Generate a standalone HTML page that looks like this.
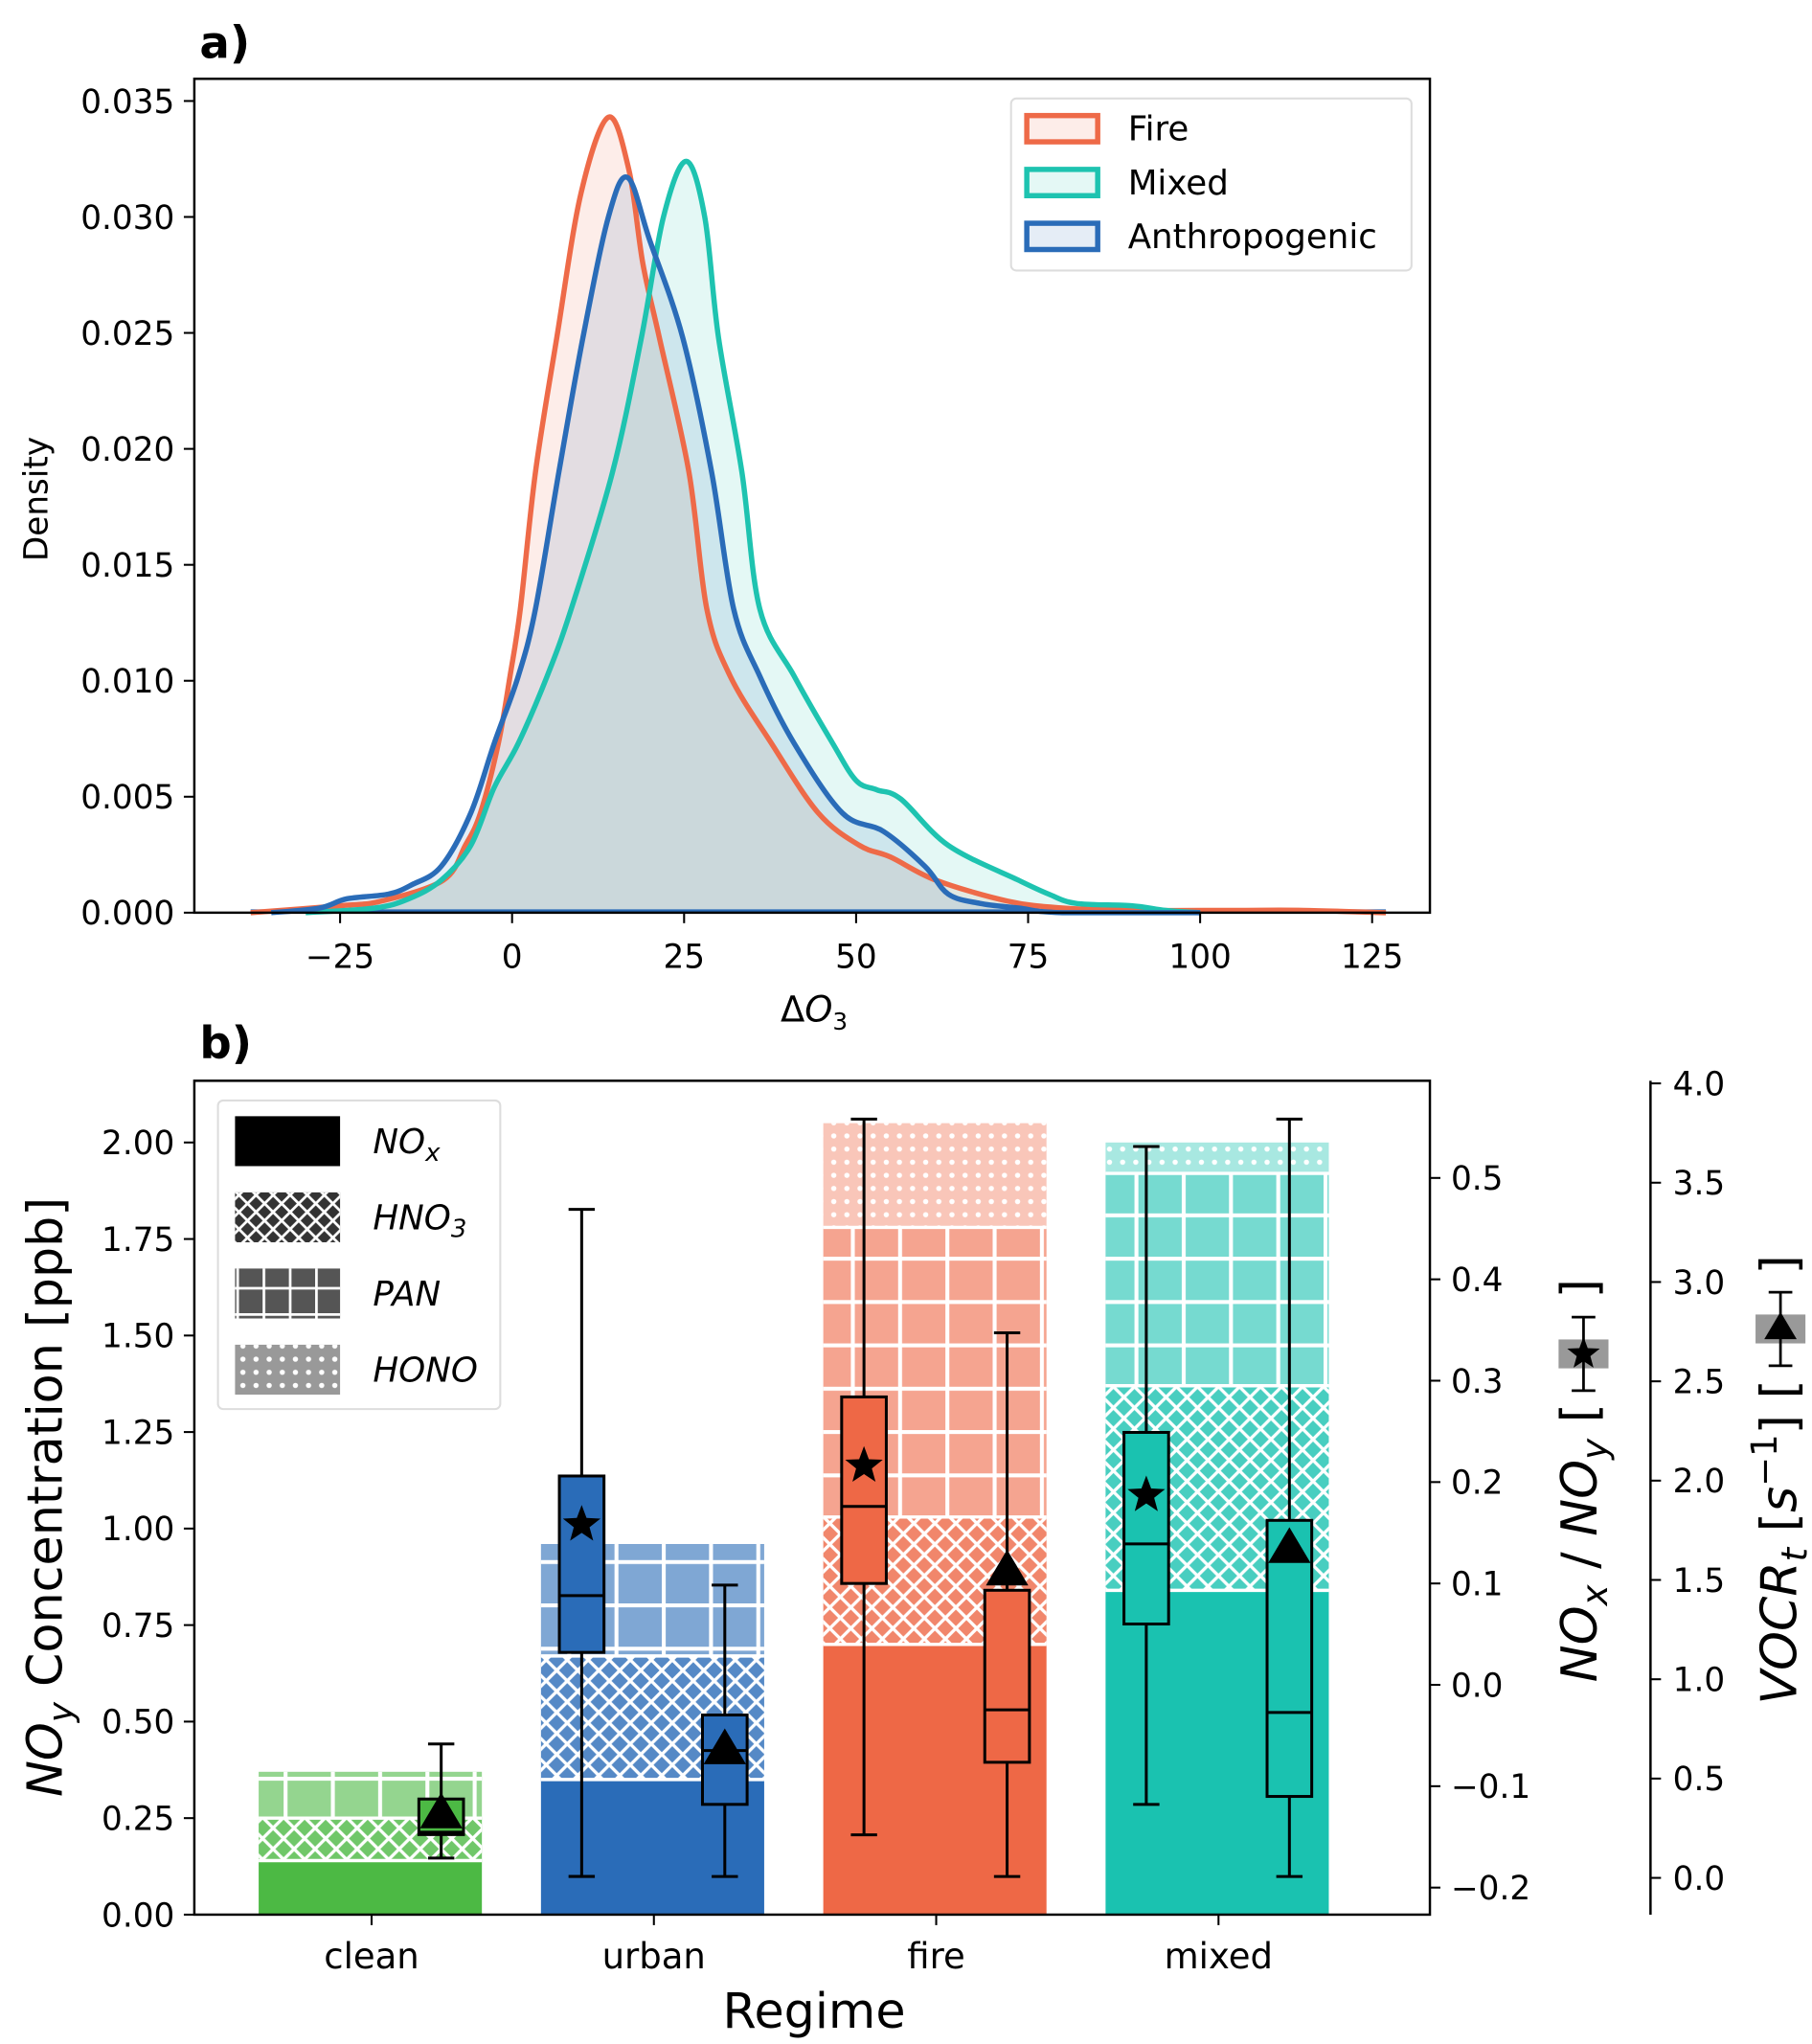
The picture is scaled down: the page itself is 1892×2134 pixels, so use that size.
<!DOCTYPE html>
<html><head><meta charset="utf-8">
<style>
html,body{margin:0;padding:0;background:#fff;}
svg{display:block;font-family:"DejaVu Sans","Liberation Sans",sans-serif;}
</style></head>
<body>
<svg id="fig" xmlns="http://www.w3.org/2000/svg" width="1892" height="2134" viewBox="0 0 1380 1556.5">
<defs>
<pattern id="cross" patternUnits="userSpaceOnUse" width="16" height="16"><path d="M0,0L16,16M16,0L0,16" stroke="#fff" stroke-width="2.4"/></pattern>
<pattern id="crossS" patternUnits="userSpaceOnUse" width="13" height="13"><path d="M0,0L13,13M13,0L0,13" stroke="#fff" stroke-width="2"/></pattern>
<pattern id="grid" patternUnits="userSpaceOnUse" width="36" height="33"><path d="M0,1.5H36M1.5,0V33" stroke="#fff" stroke-width="3"/></pattern>
<pattern id="gridS" patternUnits="userSpaceOnUse" width="20" height="20"><path d="M0,1H20M1,0V20" stroke="#fff" stroke-width="2"/></pattern>
<pattern id="dots" patternUnits="userSpaceOnUse" width="10" height="10"><circle cx="5" cy="5" r="2" fill="#fff"/></pattern>
</defs>
<g id="pa"></g>
<g id="pb"></g>
</svg>
<script>
// ---------- Panel a data ----------
const fireX=[-38,-25,-19,-10,-6.8,-4.6,-2,-0.3,1.2,3.4,6.5,10,14,17,19,21.4,25.7,28.3,31.7,37.7,44.5,50.5,55,61.6,72,80,90,105,115,127];
const fireY=[0,0.0003,0.0005,0.0014,0.0029,0.0043,0.0073,0.0102,0.0131,0.019,0.0248,0.031,0.0343,0.032,0.028,0.0248,0.019,0.0131,0.0102,0.0073,0.0043,0.0029,0.0024,0.0014,0.0005,0.0002,0.0001,0.0001,0.0001,0];
const mixedX=[-30,-20,-15,-10.3,-6,-2.6,0.9,5.1,8.6,14.6,18.8,22,25.3,28,30,33.4,36,41,46.6,50,53,56.5,63.4,73.6,78,82,90,95,100];
const mixedY=[0,0.0002,0.0006,0.0014,0.0029,0.0054,0.0073,0.0102,0.0131,0.019,0.0248,0.030,0.0324,0.030,0.0248,0.019,0.0131,0.0102,0.0073,0.0057,0.0053,0.0049,0.0029,0.0014,0.0008,0.0004,0.0003,0.0001,0];
const anthX=[-35,-28,-24,-18,-14.6,-10.3,-6,-2.6,0.9,3.4,6.8,10.3,14,16.8,20,24.8,29,32.2,36,41,48,54,60,63.4,68,73.6,80,100];
const anthY=[0,0.0002,0.0006,0.0008,0.0012,0.002,0.0043,0.0073,0.0102,0.0131,0.019,0.0248,0.030,0.0317,0.029,0.0248,0.019,0.0131,0.0102,0.0073,0.0043,0.0035,0.0020,0.0008,0.0004,0.0002,0,0];
const xTicksA=[-25,0,25,50,75,100,125];
const yTicksA=[0,0.005,0.010,0.015,0.020,0.025,0.030,0.035];
// ---------- Panel b data ----------
const regimes=["clean","urban","fire","mixed"];
const noxVals=[0.14,0.35,0.70,0.84];
const hno3Vals=[0.11,0.32,0.33,0.53];
const panVals=[0.12,0.29,0.75,0.55];
const honoVals=[0,0,0.27,0.08];
const ratioStats=[null,[-0.189,0.032,0.088,0.206,0.469,0.158],[-0.148,0.10,0.176,0.284,0.558,0.216],[-0.118,0.06,0.139,0.249,0.531,0.187]];
const vocrStats=[[0.10,0.218,0.23,0.397,0.674,0.317],[0.007,0.37,0.641,0.82,1.474,0.64],[0.007,0.582,0.846,1.448,2.744,1.54],[0.007,0.41,0.833,1.8,3.82,1.653]];
const yTicksB=[0,0.25,0.5,0.75,1.0,1.25,1.5,1.75,2.0];
const yTicksR1=[-0.2,-0.1,0.0,0.1,0.2,0.3,0.4,0.5];
const yTicksR2=[0,0.5,1.0,1.5,2.0,2.5,3.0,3.5,4.0];

const NS="http://www.w3.org/2000/svg";
function mk(parent,tag,attrs,text){const e=document.createElementNS(NS,tag);for(const k in attrs)e.setAttribute(k,attrs[k]);if(text!==undefined)e.textContent=text;parent.appendChild(e);return e;}
const pa=document.getElementById('pa'), pb=document.getElementById('pb');
const fmt=(v,d)=>(v<0?"\u2212":"")+Math.abs(v).toFixed(d);

const xa=v=>390+v*5.24, ya=v=>695-v/0.005*88.3;
const yb=v=>1458-v*294, yr1=v=>1283-v*772, yr2=v=>1430-v*151.25;
const catX=i=>283+i*215;

// ---- Panel a ----
function smooth(xs,ys){const p=xs.map((x,i)=>[xa(x),ya(ys[i])]);let d=`M${p[0][0]},${p[0][1]}`;for(let i=0;i<p.length-1;i++){const p0=p[Math.max(i-1,0)],p1=p[i],p2=p[i+1],p3=p[Math.min(i+2,p.length-1)];const c1=[p1[0]+(p2[0]-p0[0])/6,p1[1]+(p2[1]-p0[1])/6],c2=[p2[0]-(p3[0]-p1[0])/6,p2[1]-(p3[1]-p1[1])/6];d+=`C${c1[0]},${Math.min(c1[1],695)},${c2[0]},${Math.min(c2[1],695)},${p2[0]},${p2[1]}`;}return d;}
const seriesA=[["fire",fireX,fireY,"#ee6a48"],["mixed",mixedX,mixedY,"#1ec3b0"],["anthropogenic",anthX,anthY,"#2a6cb8"]];
seriesA.forEach(s=>{const d=smooth(s[1],s[2]);
  const f=mk(pa,'path',{d:d+`L${xa(s[1][s[1].length-1])},695L${xa(s[1][0])},695Z`,fill:s[3],'fill-opacity':0.12,stroke:'none'});
  
  });
mk(pa,'line',{x1:xa(-38),x2:xa(127),y1:694,y2:694,stroke:'#2a6cb8','stroke-width':3});
seriesA.forEach(s=>{const l=mk(pa,'path',{d:smooth(s[1],s[2]),fill:'none',stroke:s[3],'stroke-width':4,'stroke-linejoin':'round'});
  
  });
mk(pa,'rect',{x:148,y:60,width:941,height:635,fill:'none',stroke:'#000','stroke-width':1.8,});
xTicksA.forEach(v=>{mk(pa,'line',{x1:xa(v),x2:xa(v),y1:695,y2:703,stroke:'#000','stroke-width':1.5});
  const t=mk(pa,'text',{x:xa(v),y:737,'font-size':25,'text-anchor':'middle'},fmt(v,0));
  
  });
yTicksA.forEach(v=>{mk(pa,'line',{x1:140,x2:148,y1:ya(v),y2:ya(v),stroke:'#000','stroke-width':1.5});
  const t=mk(pa,'text',{x:133,y:ya(v)+9,'font-size':25,'text-anchor':'end'},v.toFixed(3));
  
  });
mk(pa,'text',{x:36,y:380,'font-size':25,'text-anchor':'middle',transform:'rotate(-90 36 380)',},'Density');
const xt=mk(pa,'text',{x:620,y:778,'font-size':27,'text-anchor':'middle',});
xt.innerHTML='Δ<tspan font-style="italic">O</tspan><tspan font-size="18" dy="6">3</tspan>';
mk(pa,'text',{x:152,y:44,'font-size':34,'font-weight':'bold',},'a)');
const lg=mk(pa,'g',{});
mk(lg,'rect',{x:770,y:75,width:305,height:131,rx:4,fill:'#fff','fill-opacity':0.8,stroke:'#ddd','stroke-width':1.5});
[["Fire","#ee6a48"],["Mixed","#1ec3b0"],["Anthropogenic","#2a6cb8"]].forEach((e,i)=>{const y=98+i*41;
  const g=mk(lg,'g',{});
  
  
  mk(g,'rect',{x:782,y:y-10,width:54,height:20,fill:e[1],'fill-opacity':0.12,stroke:e[1],'stroke-width':4});
  mk(g,'text',{x:859,y:y+9,'font-size':26},e[0]);});

// ---- Panel b ----
const colors=["#4cb944","#2a6cb8","#ee6846","#1ac2b0"];
regimes.forEach((r,i)=>{const x0=catX(i)-86,w=170;let cum=0;
  const layers=[[noxVals[i],1,null],[hno3Vals[i],0.8,'cross'],[panVals[i],0.6,'grid'],[honoVals[i],0.38,'dots']];
  const names=['nox','hno3','pan','hono'];
  layers.forEach((L,k)=>{if(L[0]<=0)return;const y1=yb(cum+L[0]),y0=yb(cum);
    const g=mk(pb,'g',{});
    
    
    mk(g,'rect',{x:x0,y:y1,width:w,height:y0-y1,fill:colors[i],'fill-opacity':L[1]});
    if(L[2])mk(g,'rect',{x:x0,y:y1,width:w,height:y0-y1,fill:`url(#${L[2]})`});
    if(k>0)mk(g,'line',{x1:x0,x2:x0+w,y1:y0,y2:y0,stroke:'#fff','stroke-width':2.5});
    cum+=L[0];});
});
function star(cx,cy,R){let pts=[];for(let k=0;k<10;k++){const a=-Math.PI/2+k*Math.PI/5,rr=k%2?R*0.42:R;pts.push((cx+rr*Math.cos(a)).toFixed(1)+','+(cy+rr*Math.sin(a)).toFixed(1));}return pts.join(' ');}
function tri(cx,cy,R){return `${cx},${cy-R} ${cx-R*0.95},${cy+R*0.6} ${cx+R*0.95},${cy+R*0.6}`;}
function box(st,cx,yf,col,mark,name){const g=mk(pb,'g',{});
  
  
  const hw=17;
  mk(g,'line',{x1:cx,x2:cx,y1:yf(st[0]),y2:yf(st[4]),stroke:'#000','stroke-width':2.2});
  [st[0],st[4]].forEach(v=>mk(g,'line',{x1:cx-10,x2:cx+10,y1:yf(v),y2:yf(v),stroke:'#000','stroke-width':2.2}));
  mk(g,'rect',{x:cx-hw,y:yf(st[3]),width:2*hw,height:yf(st[1])-yf(st[3]),fill:col,stroke:'#000','stroke-width':2.2});
  mk(g,'line',{x1:cx-hw,x2:cx+hw,y1:yf(st[2]),y2:yf(st[2]),stroke:'#000','stroke-width':2.2});
  if(mark==='star')mk(g,'polygon',{points:star(cx,yf(st[5]),15),fill:'#000'});
  else mk(g,'polygon',{points:tri(cx,yf(st[5]),17),fill:'#000'});}
regimes.forEach((r,i)=>{
  if(ratioStats[i])box(ratioStats[i],catX(i)-55,yr1,colors[i],'star','box-ratio-'+r);
  box(vocrStats[i],catX(i)+(i===0?53:54),yr2,colors[i],'tri','box-vocr-'+r);
});
mk(pb,'rect',{x:148,y:823,width:941,height:635,fill:'none',stroke:'#000','stroke-width':1.8,});
regimes.forEach((r,i)=>{mk(pb,'line',{x1:catX(i),x2:catX(i),y1:1458,y2:1466,stroke:'#000','stroke-width':1.5});
  const t=mk(pb,'text',{x:catX(i),y:1499,'font-size':27,'text-anchor':'middle'},r);
  
  });
yTicksB.forEach(v=>{mk(pb,'line',{x1:140,x2:148,y1:yb(v),y2:yb(v),stroke:'#000','stroke-width':1.5});
  const t=mk(pb,'text',{x:133,y:yb(v)+9,'font-size':25,'text-anchor':'end'},v.toFixed(2));
  
  });
yTicksR1.forEach(v=>{mk(pb,'line',{x1:1089,x2:1097,y1:yr1(v),y2:yr1(v),stroke:'#000','stroke-width':1.5});
  const t=mk(pb,'text',{x:1105,y:yr1(v)+9,'font-size':25},fmt(v,1));
  
  });
mk(pb,'line',{x1:1257,x2:1257,y1:823,y2:1458,stroke:'#000','stroke-width':1.8,});
yTicksR2.forEach(v=>{mk(pb,'line',{x1:1257,x2:1265,y1:yr2(v),y2:yr2(v),stroke:'#000','stroke-width':1.5});
  const t=mk(pb,'text',{x:1274,y:yr2(v)+9,'font-size':25},v.toFixed(1));
  
  });
const yl=mk(pb,'text',{x:47,y:1140,'font-size':37,'text-anchor':'middle',transform:'rotate(-90 47 1140)',});
yl.innerHTML='<tspan font-style="italic">NO</tspan><tspan font-style="italic" font-size="26" dy="8">y</tspan><tspan dy="-8"> Concentration [ppb]</tspan>';
mk(pb,'text',{x:620,y:1544,'font-size':37,'text-anchor':'middle',},'Regime');
mk(pb,'text',{x:152,y:806,'font-size':34,'font-weight':'bold',},'b)');
// right labels
const r1=mk(pb,'text',{x:1216,y:1281,'font-size':38,transform:'rotate(-90 1216 1281)',});
r1.innerHTML='<tspan font-style="italic">NO</tspan><tspan font-style="italic" font-size="27" dy="8">x</tspan><tspan dy="-8"> / </tspan><tspan font-style="italic">NO</tspan><tspan font-style="italic" font-size="27" dy="8">y</tspan><tspan dy="-8"> [</tspan><tspan dx="80">]</tspan>';
const r2=mk(pb,'text',{x:1368,y:1298,'font-size':38,transform:'rotate(-90 1368 1298)',});
r2.innerHTML='<tspan font-style="italic">VOCR</tspan><tspan font-style="italic" font-size="27" dy="8">t</tspan><tspan dy="-8"> [</tspan><tspan font-style="italic">s</tspan><tspan font-size="27" dy="-15">−1</tspan><tspan dy="15">] [</tspan><tspan dx="80">]</tspan>';
function keyMark(cx,cy,m,name){const g=mk(pb,'g',{});
  
  
  mk(g,'rect',{x:cx-19,y:cy-11,width:38,height:22,fill:'#999'});
  mk(g,'line',{x1:cx,x2:cx,y1:cy-28,y2:cy+28,stroke:'#000','stroke-width':2});
  [cy-28,cy+28].forEach(y=>mk(g,'line',{x1:cx-9,x2:cx+9,y1:y,y2:y,stroke:'#000','stroke-width':2}));
  if(m==='star')mk(g,'polygon',{points:star(cx,cy,13),fill:'#000'});else mk(g,'polygon',{points:tri(cx,cy,13),fill:'#000'});}
keyMark(1206,1031,'star','ratio-key-marker');
keyMark(1356,1012,'tri','vocr-key-marker');
// legend b
const lb=mk(pb,'g',{});
mk(lb,'rect',{x:166,y:838,width:215,height:235,rx:4,fill:'#fff','fill-opacity':0.8,stroke:'#ddd','stroke-width':1.5});
[["NO","x","#000",null],["HNO","3","#333","crossS"],["PAN","","#555","gridS"],["HONO","","#999","dots"]].forEach((e,i)=>{const y=869+i*58;
  const g=mk(lb,'g',{});
  
  
  mk(g,'rect',{x:179,y:y-19,width:80,height:38,fill:e[2]});
  if(e[3])mk(g,'rect',{x:179,y:y-19,width:80,height:38,fill:`url(#${e[3]})`});
  const t=mk(g,'text',{x:284,y:y+9,'font-size':26,'font-style':'italic'});
  t.innerHTML=e[0]+(e[1]?`<tspan font-size="19" dy="6">${e[1]}</tspan>`:'');});
</script>
</body></html>
